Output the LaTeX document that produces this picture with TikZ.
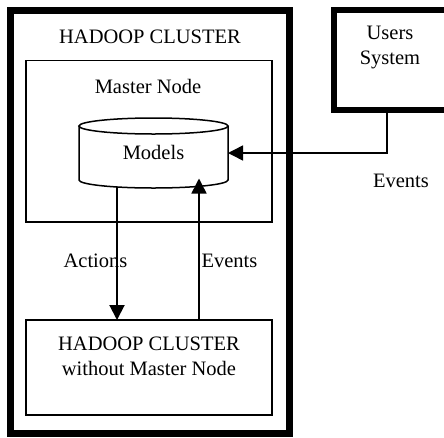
\documentclass[tikz,border=0pt]{standalone}
\usepackage{fontspec}
\setmainfont{Liberation Serif}
\usetikzlibrary{arrows.meta}
\begin{document}
\begin{tikzpicture}[x=1pt,y=-1pt,
  lbl/.style={font=\fontsize{20.5}{25}\selectfont, inner sep=0pt, align=center},
  thickbox/.style={draw, line width=7pt},
  thinbox/.style={draw, line width=1.5pt},
  conn/.style={line width=1.5pt, -{Triangle[length=15pt,width=15pt]}}]
\useasboundingbox (0,0) rectangle (444,437);
% outer cluster
\draw[thickbox] (10.5,10) rectangle (289.5,433.5);
\node[lbl] (title) at (150,37) {HADOOP CLUSTER};
% master node box
\node[thinbox, minimum width=246pt, minimum height=161.5pt, inner sep=0pt] (master) at (149,141) {};
\node[lbl] (mtitle) at (148,86) {Master Node};
% cylinder
\draw[line width=1.5pt, fill=white] (79,126) -- (79,180) arc[start angle=180, end angle=0, x radius=74.5, y radius=8] -- (228,126);
\draw[line width=1.5pt] (153.5,126) ellipse [x radius=74.5, y radius=8];
\node[minimum width=149pt, minimum height=70pt, inner sep=0pt] (cyl) at (153.5,153) {};
\node[lbl] (models) at (153.5,152) {Models};
% lower box
\node[thinbox, minimum width=246pt, minimum height=95pt, inner sep=0pt] (lower) at (149,367.5) {};
\node[lbl] (lowertxt) at (149,356) {HADOOP CLUSTER\\without Master Node};
% users system
\draw[line width=6pt] (460,10) -- (333.5,10) -- (333.5,109.5) -- (460,109.5);
\node[inner sep=0pt, minimum width=110pt, minimum height=99.5pt] (users) at (388.5,59.75) {};
\node[lbl] (userstxt) at (390,47.5) {Users\\System};
% connectors
\coordinate (uout) at (387,109.5);
\coordinate (cin) at (228,153);
\draw[conn] (uout) |- (cin);
\node[lbl] (ev1) at (401,181) {Events};
\coordinate (actTop) at (117,187);
\coordinate (actBot) at (117,320);
\draw[line width=2pt, -{Triangle[length=15pt,width=15pt]}] (actTop) -- (actBot);
\coordinate (evBot) at (199,320);
\coordinate (evTop) at (199,178.5);
\draw[conn] (evBot) -- (evTop);
\node[lbl] (actions) at (95.5,260.5) {Actions};
\node[lbl] (ev2) at (229.5,260.5) {Events};
\end{tikzpicture}
\end{document}
